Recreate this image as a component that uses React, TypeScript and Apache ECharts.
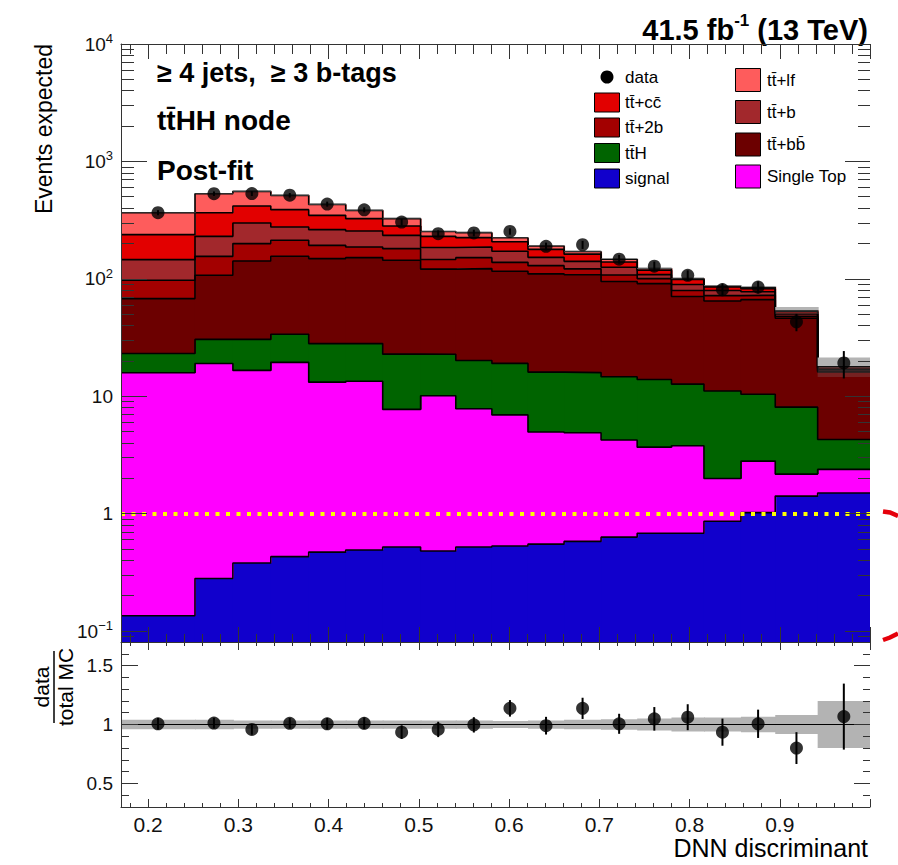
import React, { useEffect, useRef } from 'react';
import * as echarts from 'echarts';

// ---------------- data ----------------
const binEdges = [0.17, 0.252, 0.294, 0.336, 0.378, 0.419, 0.46, 0.502, 0.541, 0.581, 0.621, 0.661, 0.702, 0.742, 0.78, 0.816, 0.857, 0.895, 0.942, 1.0];

// stacked backgrounds, bottom -> top
const signalYield = [0.135, 0.28, 0.38, 0.43, 0.47, 0.49, 0.52, 0.48, 0.52, 0.53, 0.55, 0.58, 0.63, 0.68, 0.68, 0.86, 1.02, 1.41, 1.5];
const singleTopYield = [15.7, 18.7, 16.2, 19.0, 12.7, 12.9, 7.2, 9.6, 7.3, 6.4, 4.4, 4.3, 3.6, 3.0, 3.1, 1.13, 1.78, 0.76, 0.88];
const ttHYield = [7.3, 11.5, 13.9, 14.3, 14.9, 14.7, 15.1, 12.7, 12.3, 12.1, 11.1, 11.0, 10.4, 10.2, 8.9, 9.1, 7.6, 5.9, 1.9];
const ttbbYield = [44.7, 76.6, 111.2, 121.7, 120.5, 123.4, 120.9, 98.2, 102, 96.8, 94.2, 92.3, 80.1, 77.1, 58.0, 53.6, 56.1, 38.0, 11.8];
const tt2bYield = [29.3, 48.3, 57.8, 57.3, 44.2, 35.0, 37.0, 25.0, 29.3, 22.3, 19.2, 13.4, 13.0, 9.4, 8.8, 7.2, 5.9, 1.8, 0.3];
const ttbYield = [48.5, 74.6, 99.0, 63.3, 69.5, 68.8, 53.7, 39.0, 35.0, 33.3, 22.9, 19.3, 17.6, 8.2, 9.9, 7.5, 5.1, 2.3, 0.5];
const ttccYield = [92.1, 135.7, 118.1, 112.0, 84.7, 70.0, 46.9, 45.0, 37.8, 35.1, 25.8, 21.3, 13.7, 9.6, 9.2, 5.8, 4.7, 2.4, 0.5];
const ttlfYield = [128, 165.3, 139, 125.7, 83.5, 57.5, 44.0, 23.0, 23.0, 16.9, 12.7, 8.6, 7.6, 4.0, 1.9, 1.7, 2.5, 1.3, 0.6];

const dataCounts = [366, 531, 532, 515, 433, 387, 304, 242, 246, 253, 189, 195, 147, 128, 107, 81, 85, 43, 19.2];
const ratioValues = [1.006, 1.012, 0.958, 1.01, 1.006, 1.01, 0.935, 0.958, 0.997, 1.137, 0.99, 1.137, 1.006, 1.048, 1.062, 0.935, 1.006, 0.8, 1.067];
const ratioErrors = [0.05, 0.045, 0.045, 0.045, 0.05, 0.05, 0.058, 0.065, 0.065, 0.07, 0.075, 0.09, 0.085, 0.1, 0.11, 0.115, 0.12, 0.135, 0.28];
// relative MC uncertainty: ratio panel band, and the band visible on top of the stack
const mcRelUnc = [0.04, 0.04, 0.035, 0.035, 0.035, 0.035, 0.035, 0.035, 0.035, 0.03, 0.035, 0.04, 0.045, 0.05, 0.06, 0.06, 0.065, 0.08, 0.2];
const mcRelUncMain = [0.01, 0.01, 0.01, 0.01, 0.01, 0.01, 0.01, 0.01, 0.01, 0.01, 0.01, 0.01, 0.01, 0.01, 0.012, 0.012, 0.02, 0.07, 0.19];

const xTickLabels = ['0.2', '0.3', '0.4', '0.5', '0.6', '0.7', '0.8', '0.9'];
const logTickExponents = [-1, 0, 1, 2, 3, 4];
const ratioTickValues = [0.5, 1, 1.5];
const ratioTickLabels = ['0.5', '1', '1.5'];

const TT = 'tt\u0304';
const seriesNames = ['signal', 'Single Top', TT + 'H', TT + '+bb\u0304', TT + '+2b', TT + '+b', TT + '+cc\u0304', TT + '+lf'];
const seriesValues = [signalYield, singleTopYield, ttHYield, ttbbYield, tt2bYield, ttbYield, ttccYield, ttlfYield];

// ---------------- styles ----------------
const stackColors = ['#1100cc', '#ff00ff', '#006400', '#6c0000', '#a30000', '#a2282c', '#e20000', '#fe5c5c'];
const FONT = '"Liberation Sans", Arial, Helvetica, sans-serif';
const X_MIN = 0.17, X_MAX = 1.0, Y_MIN = 0.0806, Y_MAX = 10000, R_MIN = 0.3, R_MAX = 1.7;
const AX = '#333';

function buildOption() {
  const nBins = binEdges.length - 1;
  const cum: number[][] = [];
  seriesValues.forEach((vals, k) => {
    cum.push(vals.map((v, i) => (k === 0 ? 0 : cum[k - 1][i]) + v));
  });
  const totalMC = cum[cum.length - 1];
  const centers = binEdges.slice(0, nBins).map((e, i) => (e + binEdges[i + 1]) / 2);

  // rectangles; each one overlaps the next bin by 1px so no seams show
  const rectRender = (fill: string) => (params: any, api: any) => {
    const a = api.coord([api.value(0), api.value(3)]);
    const b = api.coord([api.value(1), api.value(2)]);
    const extra = params.dataIndex < nBins - 1 ? 1 : 0;
    return {
      type: 'rect',
      shape: { x: a[0], y: a[1], width: b[0] - a[0] + extra, height: b[1] - a[1] },
      style: { fill },
    };
  };
  const errRender = (params: any, api: any) => {
    const a = api.coord([api.value(0), api.value(1)]);
    const b = api.coord([api.value(0), api.value(2)]);
    return { type: 'line', shape: { x1: a[0], y1: a[1], x2: b[0], y2: b[1] }, style: { stroke: '#000', lineWidth: 2 } };
  };

  const series: any[] = [];
  // stacked fills
  seriesValues.forEach((vals, k) => {
    series.push({
      type: 'custom', name: seriesNames[k], xAxisIndex: 0, yAxisIndex: 0, z: 1, silent: true,
      renderItem: rectRender(stackColors[k]),
      encode: { x: [0, 1], y: [2, 3] },
      data: vals.map((_, i) => [binEdges[i], binEdges[i + 1], k === 0 ? Y_MIN : cum[k - 1][i], cum[k][i]]),
    });
  });
  // outlines
  seriesValues.forEach((_, k) => {
    series.push({
      type: 'line', xAxisIndex: 0, yAxisIndex: 0, z: 2, silent: true, symbol: 'none',
      lineStyle: { color: '#000', width: 1.6 },
      data: cum[k].flatMap((v, i) => [[binEdges[i], v], [binEdges[i + 1], v]]),
    });
  });
  // MC uncertainty band (upper) + yellow line at 1
  series.push({
    type: 'custom', xAxisIndex: 0, yAxisIndex: 0, z: 3, silent: true,
    renderItem: rectRender('#b4b4b4'),
    encode: { x: [0, 1], y: [2, 3] },
    data: totalMC.map((t, i) => [binEdges[i], binEdges[i + 1], t * 1.004, t * (1 + mcRelUncMain[i])]),
    markLine: {
      silent: true, symbol: ['none', 'none'], label: { show: false },
      lineStyle: { color: '#ffff00', width: 4, type: [4, 6.5] },
      data: [{ yAxis: 1 }],
    },
  });
  series.push({
    type: 'custom', xAxisIndex: 0, yAxisIndex: 0, z: 3, silent: true,
    renderItem: rectRender('rgba(150,150,150,0.22)'),
    encode: { x: [0, 1], y: [2, 3] },
    data: totalMC.map((t, i) => [binEdges[i], binEdges[i + 1], t * (1 - mcRelUncMain[i]), t * 0.996]),
  });
  // data (upper)
  series.push({
    type: 'custom', xAxisIndex: 0, yAxisIndex: 0, z: 5, silent: true,
    renderItem: errRender, encode: { x: 0, y: [1, 2] },
    data: centers.map((x, i) => {
      const e = dataCounts[i] * ratioErrors[i] / ratioValues[i];
      return [x, dataCounts[i] - e, dataCounts[i] + e];
    }),
  });
  series.push({
    type: 'scatter', name: 'data', xAxisIndex: 0, yAxisIndex: 0, z: 6, silent: true,
    symbol: 'circle', symbolSize: 13, itemStyle: { color: '#000' },
    data: centers.map((x, i) => [x, dataCounts[i]]),
  });
  // ratio band + line at 1
  series.push({
    type: 'custom', xAxisIndex: 2, yAxisIndex: 2, z: 1, silent: true,
    renderItem: rectRender('#b3b3b3'),
    encode: { x: [0, 1], y: [2, 3] },
    data: mcRelUnc.map((u, i) => [binEdges[i], binEdges[i + 1], 1 - u, 1 + u]),
    markLine: {
      silent: true, symbol: ['none', 'none'], label: { show: false },
      lineStyle: { color: '#000', width: 1.2, type: 'solid' },
      data: [{ yAxis: 1 }],
    },
  });
  series.push({
    type: 'custom', xAxisIndex: 2, yAxisIndex: 2, z: 5, silent: true,
    renderItem: errRender, encode: { x: 0, y: [1, 2] },
    data: centers.map((x, i) => [x, ratioValues[i] - ratioErrors[i], ratioValues[i] + ratioErrors[i]]),
  });
  series.push({
    type: 'scatter', xAxisIndex: 2, yAxisIndex: 2, z: 6, silent: true,
    symbol: 'circle', symbolSize: 13, itemStyle: { color: '#000' },
    data: centers.map((x, i) => [x, ratioValues[i]]),
  });

  const lineStyle = { color: AX, width: 1 };
  const fmtX = (v: number) => {
    const r = Math.round(v * 10);
    if (Math.abs(v * 10 - r) > 1e-6 || r < 2 || r > 9) return '';
    return xTickLabels[r - 2];
  };
  const fmtLog = (v: number) => {
    const e = Math.log10(v);
    const r = Math.round(e);
    if (Math.abs(e - r) > 1e-4 || logTickExponents.indexOf(r) < 0) return '';
    if (r === 0) return '1';
    if (r === 1) return '10';
    return '10{sup|' + (r < 0 ? '\u2212' + -r : String(r)) + '}';
  };
  const fmtRatio = (v: number) => {
    const idx = ratioTickValues.findIndex((t) => Math.abs(t - v) < 1e-6);
    return idx < 0 ? '' : ratioTickLabels[idx];
  };

  const mkX = (grid: number, pos: string, major: number, minor: number, labels: boolean, showLine = true) => ({
    type: 'value', gridIndex: grid, position: pos, min: X_MIN, max: X_MAX, splitNumber: 8, z: 10,
    axisLine: { show: showLine, onZero: false, lineStyle },
    axisTick: { show: true, inside: true, length: major, lineStyle },
    minorTick: { show: true, splitNumber: 5, length: minor, lineStyle },
    splitLine: { show: false }, minorSplitLine: { show: false },
    axisLabel: labels
      ? { show: true, fontSize: 21, color: '#111', fontFamily: FONT, margin: 7, formatter: fmtX, showMinLabel: false, showMaxLabel: false }
      : { show: false },
  });
  const mkLogY = (pos: string, major: number, minor: number, labels: boolean) => ({
    type: 'log', logBase: 10, gridIndex: 0, position: pos, min: Y_MIN, max: Y_MAX, z: 10,
    axisLine: { show: pos === 'left', onZero: false, lineStyle },
    axisTick: { show: true, inside: true, length: major, lineStyle },
    minorTick: { show: true, splitNumber: 9, length: minor, lineStyle },
    splitLine: { show: false }, minorSplitLine: { show: false },
    axisLabel: labels
      ? {
          show: true, fontSize: 19, color: '#111', fontFamily: FONT, margin: 8, lineHeight: 24, formatter: fmtLog,
          showMinLabel: false,
          rich: { sup: { fontSize: 13, fontFamily: FONT, color: '#111', lineHeight: 24, verticalAlign: 'top' } },
        }
      : { show: false },
  });
  const mkRatioY = (pos: string, major: number, minor: number, labels: boolean) => ({
    type: 'value', gridIndex: 1, position: pos, min: R_MIN, max: R_MAX, splitNumber: 3, z: 10,
    axisLine: { show: pos === 'left', onZero: false, lineStyle },
    axisTick: { show: true, inside: true, length: major, lineStyle },
    minorTick: { show: true, splitNumber: 5, length: minor, lineStyle },
    splitLine: { show: false }, minorSplitLine: { show: false },
    axisLabel: labels
      ? { show: true, fontSize: 19, color: '#111', fontFamily: FONT, margin: 8, formatter: fmtRatio }
      : { show: false },
  });

  // ---------- graphic texts & legend ----------
  const graphic: any[] = [];
  const txt = (x: number, y: number, text: string, size: number, bold = false, align = 'left', extra: any = {}) => ({
    type: 'text', x, y, silent: true,
    style: { text, fontSize: size, fontWeight: bold ? 'bold' : 'normal', fontFamily: FONT, fill: '#000', align, verticalAlign: 'middle', ...extra },
  });
  graphic.push({
    type: 'text', x: 868, y: 30, silent: true,
    style: {
      text: '41.5 fb{sup|-1} (13 TeV)', fontSize: 29, fontWeight: 'bold', fontFamily: FONT, fill: '#000',
      align: 'right', verticalAlign: 'middle', lineHeight: 36,
      rich: { sup: { fontSize: 17, fontWeight: 'bold', fontFamily: FONT, fill: '#000', lineHeight: 36, verticalAlign: 'top' } },
    },
  });
  graphic.push(txt(157, 73, '\u2265 4 jets,  \u2265 3 b-tags', 27, true));
  graphic.push(txt(157, 120, TT + 'HH node', 28, true));
  graphic.push(txt(157, 170, 'Post-fit', 28, true));
  graphic.push({ ...txt(44, 44, 'Events expected', 23, false, 'right'), rotation: Math.PI / 2 });
  graphic.push(txt(868, 848, 'DNN discriminant', 25, false, 'right'));
  graphic.push({
    type: 'group', x: 54, y: 687, rotation: Math.PI / 2, silent: true,
    children: [
      { type: 'text', x: 0, y: -2, style: { text: 'data', fontSize: 21, fontFamily: FONT, fill: '#000', align: 'center', verticalAlign: 'bottom' } },
      { type: 'line', shape: { x1: -36, y1: 0, x2: 36, y2: 0 }, style: { stroke: '#000', lineWidth: 1.5 } },
      { type: 'text', x: 0, y: 1, style: { text: 'total MC', fontSize: 21, fontFamily: FONT, fill: '#000', align: 'center', verticalAlign: 'top' } },
    ],
  });
  // legend
  const legendLeft = ['data', seriesNames[6], seriesNames[4], seriesNames[2], seriesNames[0]];
  const legendLeftY = [77, 102.5, 127.5, 153, 178.5];
  legendLeft.forEach((name, i) => {
    const y = legendLeftY[i];
    if (name === 'data') {
      graphic.push({ type: 'circle', shape: { cx: 607, cy: y, r: 6.5 }, style: { fill: '#000' }, silent: true });
    } else {
      const k = seriesNames.indexOf(name);
      graphic.push({ type: 'rect', shape: { x: 594.5, y: y - 9.5, width: 25, height: 19 }, style: { fill: stackColors[k], stroke: '#000', lineWidth: 1 }, silent: true });
    }
    graphic.push(txt(625, y, name, 17));
  });
  const legendRight = [seriesNames[7], seriesNames[5], seriesNames[3], seriesNames[1]];
  const legendRightY = [80, 112, 144.5, 176.5];
  legendRight.forEach((name, i) => {
    const y = legendRightY[i];
    const k = seriesNames.indexOf(name);
    graphic.push({ type: 'rect', shape: { x: 735.5, y: y - 11.5, width: 25, height: 23 }, style: { fill: stackColors[k], stroke: '#000', lineWidth: 1 }, silent: true });
    graphic.push(txt(767, y, name, 17));
  });
  // red marks at right edge
  graphic.push({ type: 'polyline', shape: { points: [[883, 511.5], [890, 512.5], [898, 516]] }, style: { stroke: '#e5000b', lineWidth: 4.5, fill: null }, silent: true });
  graphic.push({ type: 'polyline', shape: { points: [[883, 640], [890, 637.5], [898, 633.5]] }, style: { stroke: '#e5000b', lineWidth: 4.5, fill: null }, silent: true });

  return {
    animation: false,
    backgroundColor: '#ffffff',
    textStyle: { fontFamily: FONT },
    grid: [
      { left: 121, top: 44, width: 749, height: 598, containLabel: false, outerBoundsMode: 'none' },
      { left: 121, top: 642, width: 749, height: 165, containLabel: false, outerBoundsMode: 'none' },
    ],
    xAxis: [mkX(0, 'bottom', 15, 8, false), mkX(0, 'top', 15, 10, false), mkX(1, 'bottom', 8, 4, true), mkX(1, 'top', 8, 4, false, false)],
    yAxis: [mkLogY('left', 26, 13, true), mkLogY('right', 25, 12, false), mkRatioY('left', 17, 8, true), mkRatioY('right', 16, 7, false)],
    series,
    graphic,
  };
}

export default function App() {
  const ref = useRef<HTMLDivElement>(null);
  useEffect(() => {
    if (!ref.current) return;
    const chart = echarts.init(ref.current, undefined, { renderer: 'svg' });
    chart.setOption(buildOption() as any);
    return () => chart.dispose();
  }, []);
  return <div ref={ref} style={{ position: 'fixed', left: 0, top: 0, width: 898, height: 865, background: '#fff' }} />;
}
